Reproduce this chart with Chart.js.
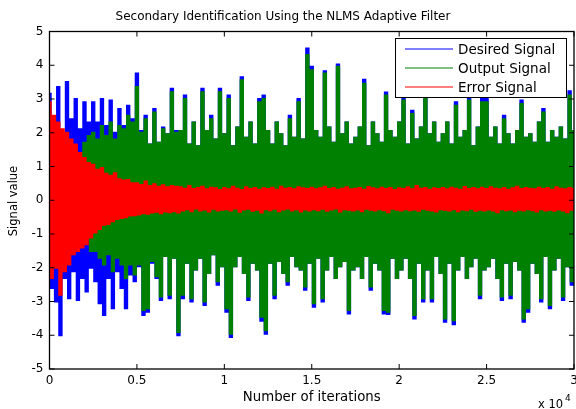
<!DOCTYPE html>
<html><head><meta charset="utf-8">
<script src="https://cdn.jsdelivr.net/npm/chart.js@4.4.0/dist/chart.umd.min.js"></script>
<style>html,body{margin:0;padding:0;background:#fff;overflow:hidden}canvas{display:block}</style>
</head><body>
<canvas id="c" width="576" height="409"></canvas>
<script>
// Envelope samples: one value every 125 iterations,
// alternating positive peak / negative trough.
const iterationStep = 125;

const desiredSignal = [
 3.15,-2.6,2.2,-3.0,3.35,-4.0,2.0,-2.3,3.5,-2.9,2.4,-2.1,3.0,-2.95,2.1,-2.3,2.9,-2.7,2.3,-2.0,
 2.9,-2.4,2.3,-3.05,3.0,-3.4,2.2,-2.3,2.95,-3.2,2.0,-2.1,2.7,-2.6,2.2,-3.2,2.8,-2.2,2.4,-2.4,
 3.75,-1.95,2.05,-3.4,2.5,-3.3,1.65,-1.85,2.7,-2.3,1.7,-2.95,2.15,-1.65,1.95,-2.9,3.3,-1.7,2.05,-4.0,
 2.05,-2.9,3.1,-1.85,1.65,-3.0,2.3,-2.05,1.6,-1.7,3.3,-3.1,2.05,-2.15,2.5,-1.6,1.8,-2.5,3.3,-1.95,
 1.95,-3.3,3.1,-4.05,1.6,-1.95,2.15,-1.65,3.64,-2.15,1.85,-2.95,2.3,-1.85,1.65,-2.05,3.0,-3.57,3.1,-3.95,
 2.05,-1.85,1.65,-2.9,2.3,-1.8,1.95,-2.15,1.6,-2.5,2.5,-1.65,1.85,-1.95,3.0,-2.05,1.8,-2.65,4.49,-1.85,
 3.95,-3.15,2.05,-1.7,1.85,-3.0,3.82,-2.05,2.15,-1.65,1.7,-2.3,4.02,-1.95,1.95,-1.8,2.3,-3.35,1.65,-2.05,
 1.85,-1.95,2.15,-2.3,3.57,-1.65,1.6,-2.65,2.3,-1.85,1.95,-2.05,1.7,-3.35,3.19,-3.37,2.05,-1.7,1.85,-2.3,
 2.3,-2.05,3.05,-1.7,1.65,-2.3,2.65,-3.5,1.8,-1.85,2.15,-3.0,3.1,-2.05,1.95,-3.0,2.3,-1.65,1.7,-2.15,
 1.95,-3.6,2.3,-1.85,1.65,-3.67,2.9,-2.05,1.85,-1.65,2.05,-2.3,3.05,-1.95,1.6,-1.7,2.15,-2.9,3.0,-2.05,
 3.0,-1.95,1.85,-1.7,2.15,-2.3,1.65,-2.95,2.5,-1.85,1.95,-2.9,1.65,-1.8,2.05,-2.05,2.95,-3.6,1.85,-3.3,
 1.95,-1.85,1.7,-2.15,2.3,-3.0,2.7,-1.65,1.7,-3.2,2.05,-2.05,1.85,-1.7,2.15,-2.95,1.8,-1.95,3.23,-2.5,
 2.05
];

const outputSignal = [
 0.1,-0.15,0.4,-0.4,0.6,-0.7,0.7,-0.8,1.0,-0.9,1.1,-1.0,1.3,-1.2,1.4,-1.3,1.7,-1.1,1.9,-1.5,
 2.0,-1.5,1.8,-1.7,2.2,-1.9,1.9,-1.6,2.3,-2.1,1.8,-1.7,2.2,-1.9,2.1,-2.3,2.5,-1.9,2.3,-2.2,
 3.35,-1.9,2.0,-3.25,2.4,-3.2,1.65,-1.8,2.6,-2.25,1.7,-2.85,2.1,-1.65,1.95,-2.8,3.2,-1.7,2.0,-3.9,
 2.05,-2.8,3.0,-1.85,1.65,-2.9,2.3,-2.05,1.6,-1.7,3.2,-3.0,2.05,-2.15,2.4,-1.6,1.8,-2.4,3.2,-1.95,
 1.95,-3.2,3.0,-3.95,1.6,-1.95,2.15,-1.65,3.55,-2.15,1.85,-2.85,2.3,-1.85,1.65,-2.05,2.9,-3.45,3.0,-3.85,
 2.05,-1.85,1.65,-2.8,2.3,-1.8,1.95,-2.15,1.6,-2.4,2.4,-1.65,1.85,-1.95,2.9,-2.05,1.8,-2.55,4.3,-1.85,
 3.85,-3.05,2.05,-1.7,1.85,-2.9,3.75,-2.05,2.15,-1.65,1.7,-2.3,3.95,-1.95,1.95,-1.8,2.3,-3.25,1.65,-2.05,
 1.85,-1.95,2.15,-2.3,3.45,-1.65,1.6,-2.55,2.3,-1.85,1.95,-2.05,1.7,-3.25,3.1,-3.3,2.05,-1.7,1.85,-2.3,
 2.3,-2.05,2.95,-1.7,1.65,-2.3,2.55,-3.4,1.8,-1.85,2.15,-2.9,3.0,-2.05,1.95,-2.9,2.3,-1.65,1.7,-2.15,
 1.95,-3.5,2.3,-1.85,1.65,-3.55,2.8,-2.05,1.85,-1.65,2.05,-2.3,2.95,-1.95,1.6,-1.7,2.15,-2.8,2.9,-2.05,
 2.9,-1.95,1.85,-1.7,2.15,-2.3,1.65,-2.85,2.4,-1.85,1.95,-2.8,1.65,-1.8,2.05,-2.05,2.85,-3.5,1.85,-3.2,
 1.95,-1.85,1.7,-2.15,2.3,-2.9,2.6,-1.65,1.7,-3.1,2.05,-2.05,1.85,-1.7,2.15,-2.85,1.8,-1.95,3.1,-2.4,
 2.05
];

const errorSignal = [
 2.9,-2.3,2.5,-2.0,2.3,-2.8,2.1,-2.1,2.0,-1.9,1.8,-1.6,1.65,-1.5,1.4,-1.4,1.25,-1.3,1.1,-1.1,
 1.05,-0.95,0.9,-0.85,0.95,-0.72,0.78,-0.7,0.72,-0.62,0.8,-0.55,0.62,-0.52,0.58,-0.5,0.6,-0.45,0.5,-0.44,
 0.5,-0.42,0.45,-0.38,0.55,-0.4,0.42,-0.36,0.47,-0.34,0.4,-0.38,0.44,-0.33,0.38,-0.35,0.42,-0.32,0.4,-0.36,
 0.38,-0.3,0.34,-0.26,0.42,-0.32,0.33,-0.24,0.36,-0.3,0.4,-0.27,0.32,-0.33,0.37,-0.25,0.35,-0.3,0.3,-0.28,
 0.36,-0.26,0.32,-0.3,0.4,-0.24,0.34,-0.34,0.3,-0.27,0.38,-0.25,0.33,-0.31,0.36,-0.28,0.31,-0.36,0.35,-0.26,
 0.33,-0.29,0.37,-0.25,0.31,-0.32,0.4,-0.27,0.34,-0.24,0.36,-0.3,0.32,-0.26,0.38,-0.33,0.35,-0.27,0.33,-0.3,
 0.37,-0.26,0.32,-0.29,0.35,-0.25,0.4,-0.31,0.33,-0.27,0.36,-0.24,0.31,-0.33,0.34,-0.26,0.38,-0.28,0.32,-0.3,
 0.34,-0.27,0.36,-0.32,0.31,-0.25,0.39,-0.28,0.35,-0.3,0.32,-0.26,0.37,-0.29,0.33,-0.35,0.36,-0.25,0.3,-0.28,
 0.35,-0.3,0.33,-0.26,0.38,-0.29,0.32,-0.27,0.42,-0.31,0.34,-0.25,0.36,-0.28,0.31,-0.3,0.35,-0.33,0.33,-0.26,
 0.36,-0.28,0.32,-0.3,0.37,-0.26,0.34,-0.32,0.31,-0.27,0.39,-0.29,0.33,-0.25,0.36,-0.31,0.32,-0.28,0.37,-0.3,
 0.33,-0.27,0.38,-0.3,0.34,-0.35,0.32,-0.26,0.36,-0.29,0.31,-0.27,0.35,-0.32,0.4,-0.28,0.33,-0.3,0.36,-0.26,
 0.34,-0.29,0.32,-0.33,0.37,-0.26,0.33,-0.3,0.36,-0.28,0.31,-0.31,0.38,-0.27,0.34,-0.3,0.32,-0.35,0.36,-0.28,
 0.33
];

const seriesNames = ['Desired Signal', 'Output Signal', 'Error Signal'];
const seriesColors = ['#0000ff', '#008000', '#ff0000'];
const xTickValues = [0, 5000, 10000, 15000, 20000, 25000, 30000];
const xTickLabels = ['0', '0.5', '1', '1.5', '2', '2.5', '3'];
const yTickValues = [-5, -4, -3, -2, -1, 0, 1, 2, 3, 4, 5];
const yTickLabels = ['-5', '-4', '-3', '-2', '-1', '0', '1', '2', '3', '4', '5'];
const titleText = 'Secondary Identification Using the NLMS Adaptive Filter';
const xTitle = 'Number of iterations';
const yTitle = 'Signal value';

const iterations = desiredSignal.map((_, i) => i * iterationStep);
const toPoints = arr => arr.map((y, i) => ({ x: iterations[i], y }));

Chart.defaults.font.family = 'DejaVu Sans';
Chart.defaults.color = '#000';

const FONT = 'DejaVu Sans';

const decorations = {
  id: 'decorations',
  afterDatasetsDraw(chart) {
    const { ctx, chartArea: a, scales: { x, y } } = chart;
    ctx.save();
    ctx.strokeStyle = '#000';
    ctx.lineWidth = 1;
    ctx.beginPath();
    xTickValues.forEach(v => {
      const px = x.getPixelForValue(v);
      ctx.moveTo(px, a.bottom); ctx.lineTo(px, a.bottom - 5);
      ctx.moveTo(px, a.top); ctx.lineTo(px, a.top + 5);
    });
    yTickValues.forEach(v => {
      const py = y.getPixelForValue(v);
      ctx.moveTo(a.left, py); ctx.lineTo(a.left + 5, py);
      ctx.moveTo(a.right, py); ctx.lineTo(a.right - 5, py);
    });
    ctx.stroke();
    ctx.lineWidth = 1.3;
    ctx.strokeRect(a.left, a.top, a.right - a.left, a.bottom - a.top);
    ctx.restore();
  },
  afterDraw(chart) {
    const { ctx, chartArea: a } = chart;
    ctx.save();
    ctx.fillStyle = '#000';
    ctx.font = '12px "' + FONT + '"';
    ctx.textAlign = 'center';
    ctx.textBaseline = 'middle';
    ctx.fillText(titleText, 283, 17);
    ctx.font = '13.3px "' + FONT + '"';
    ctx.fillText(xTitle, (a.left + a.right) / 2, 397.5);
    ctx.save();
    ctx.translate(14, 201);
    ctx.rotate(-Math.PI / 2);
    ctx.font = '11.5px "' + FONT + '"';
    ctx.fillText(yTitle, 0, 0);
    ctx.restore();
    ctx.textAlign = 'left';
    ctx.textBaseline = 'alphabetic';
    ctx.font = '11.5px "' + FONT + '"';
    ctx.fillText('x 10', 538, 408);
    ctx.font = '9px "' + FONT + '"';
    ctx.fillText('4', 565, 400.5);
    // legend box
    const bx = 395.5, by = 38.5, bw = 171, bh = 59;
    ctx.fillStyle = '#fff';
    ctx.fillRect(bx, by, bw, bh);
    ctx.strokeStyle = '#000';
    ctx.lineWidth = 1;
    ctx.strokeRect(bx, by, bw, bh);
    const rows = [49, 68, 87];
    ctx.font = '13.5px "' + FONT + '"';
    ctx.textBaseline = 'middle';
    seriesNames.forEach((name, i) => {
      ctx.strokeStyle = seriesColors[i];
      ctx.lineWidth = 1.2;
      ctx.beginPath();
      ctx.moveTo(405, rows[i]); ctx.lineTo(453, rows[i]);
      ctx.stroke();
      ctx.fillStyle = '#000';
      ctx.fillText(name, 458, rows[i] + 1);
    });
    ctx.restore();
  }
};

const common = { borderWidth: 2.2, pointRadius: 0, stepped: 'middle', fill: false, clip: 0 };

new Chart(document.getElementById('c'), {
  type: 'line',
  data: {
    datasets: [
      Object.assign({ label: seriesNames[0], data: toPoints(desiredSignal), borderColor: seriesColors[0], order: 2 }, common),
      Object.assign({ label: seriesNames[1], data: toPoints(outputSignal), borderColor: seriesColors[1], order: 1 }, common),
      Object.assign({ label: seriesNames[2], data: toPoints(errorSignal), borderColor: seriesColors[2], order: 0 }, common)
    ]
  },
  options: {
    responsive: false,
    animation: false,
    devicePixelRatio: 1,
    layout: { padding: { left: 0, right: 2, top: 31.5, bottom: 0 } },
    plugins: { legend: { display: false }, tooltip: { enabled: false }, title: { display: false } },
    scales: {
      x: {
        type: 'linear', min: 0, max: 30000,
        grid: { display: false, drawTicks: false }, border: { display: false },
        ticks: {
          stepSize: 5000, padding: 5, maxRotation: 0, autoSkip: false,
          font: { size: 12 }, color: '#000',
          callback: v => { const k = xTickValues.indexOf(v); return k >= 0 ? xTickLabels[k] : ''; }
        },
        afterFit: s => { s.height = 40; s.paddingLeft = 0; s.paddingRight = 0; }
      },
      y: {
        min: -5, max: 5,
        grid: { display: false, drawTicks: false }, border: { display: false },
        ticks: {
          stepSize: 1, padding: 6, font: { size: 12 }, color: '#000',
          callback: v => { const k = yTickValues.indexOf(v); return k >= 0 ? yTickLabels[k] : ''; }
        },
        afterFit: s => { s.width = 49.5; s.paddingTop = 0; s.paddingBottom = 0; }
      }
    }
  },
  plugins: [decorations]
});
</script>
</body></html>
